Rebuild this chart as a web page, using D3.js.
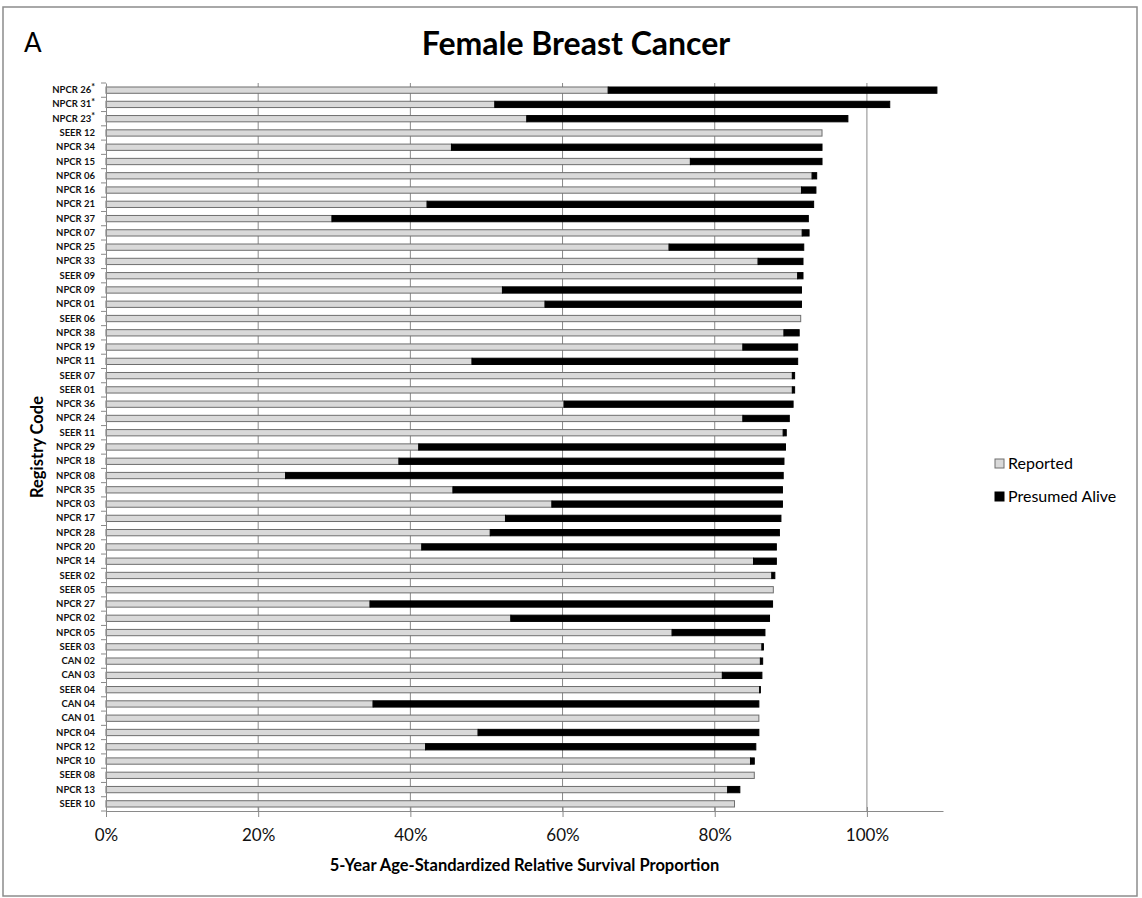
<!DOCTYPE html>
<html>
<head>
<meta charset="utf-8">
<script src="https://cdn.jsdelivr.net/npm/d3@7"></script>
<style>
  body { margin: 0; background: #fff; }
  text { font-family: Lato, "Open Sans", sans-serif; }
</style>
</head>
<body>
<svg id="chart"></svg>
<script>
const registries = [
  "NPCR 26*", "NPCR 31*", "NPCR 23*", "SEER 12", "NPCR 34", "NPCR 15", "NPCR 06",
  "NPCR 16", "NPCR 21", "NPCR 37", "NPCR 07", "NPCR 25", "NPCR 33", "SEER 09",
  "NPCR 09", "NPCR 01", "SEER 06", "NPCR 38", "NPCR 19", "NPCR 11", "SEER 07",
  "SEER 01", "NPCR 36", "NPCR 24", "SEER 11", "NPCR 29", "NPCR 18", "NPCR 08",
  "NPCR 35", "NPCR 03", "NPCR 17", "NPCR 28", "NPCR 20", "NPCR 14", "SEER 02",
  "SEER 05", "NPCR 27", "NPCR 02", "NPCR 05", "SEER 03", "CAN 02", "CAN 03",
  "SEER 04", "CAN 04", "CAN 01", "NPCR 04", "NPCR 12", "NPCR 10", "SEER 08",
  "NPCR 13", "SEER 10"
];
// percent values
const reported = [
  66.0, 51.1, 55.3, 94.1, 45.4, 76.8, 92.8,
  91.4, 42.2, 29.7, 91.5, 74.0, 85.7, 90.9,
  52.1, 57.7, 91.3, 89.1, 83.7, 48.1, 90.2,
  90.2, 60.2, 83.7, 89.0, 41.1, 38.5, 23.6,
  45.6, 58.6, 52.5, 50.5, 41.5, 85.1, 87.5,
  87.7, 34.7, 53.2, 74.4, 86.2, 86.0, 81.0,
  85.9, 35.1, 85.8, 48.9, 42.0, 84.7, 85.2,
  81.7, 82.6
];
const presumedAlive = [
  43.2, 51.9, 42.2, 0.0, 48.7, 17.3, 0.6,
  1.9, 50.8, 62.6, 0.9, 17.7, 5.9, 0.7,
  39.3, 33.7, 0.0, 2.0, 7.2, 42.8, 0.3,
  0.3, 30.1, 6.1, 0.4, 48.2, 50.6, 65.4,
  43.3, 30.3, 36.2, 38.0, 46.6, 3.0, 0.4,
  0.0, 52.9, 34.0, 12.2, 0.2, 0.3, 5.2,
  0.1, 50.7, 0.0, 36.9, 43.4, 0.5, 0.0,
  1.6, 0.0
];
const xTicks = [0, 0.2, 0.4, 0.6, 0.8, 1.0];
const seriesNames = ["Reported", "Presumed Alive"];

const w = 1142;
const h = 898;
const plotLeft = 106, plotRight = 943, plotTop = 83, plotBottom = 811;
const grayFill = "#d9d9d9";
const grayStroke = "#6e6e6e";
const gridColor = "#8a8a8a";

const svg = d3.select("#chart").attr("width", w).attr("height", h);

svg.append("rect")
  .attr("x", 3).attr("y", 7)
  .attr("width", 1134).attr("height", 889)
  .attr("fill", "none")
  .attr("stroke", "#8c8c8c")
  .attr("stroke-width", 1.5);

svg.append("text")
  .attr("x", 24).attr("y", 52)
  .style("font-size", "26px")
  .text("A");

svg.append("text")
  .attr("x", 576).attr("y", 55)
  .attr("text-anchor", "middle")
  .style("font-size", "32px")
  .style("font-weight", "bold")
  .text("Female Breast Cancer");

const rows = registries.map((r, i) => ({
  name: r,
  "Reported": reported[i] / 100,
  "Presumed Alive": presumedAlive[i] / 100
}));

const xScale = d3.scaleLinear().domain([0, 1.1]).range([plotLeft, plotRight]);
const yScale = d3.scaleBand()
  .domain(registries)
  .range([plotTop, plotBottom])
  .paddingInner(0.56)
  .paddingOuter(0.28);

// gridlines
svg.append("g")
  .selectAll("line")
  .data(xTicks.slice(1))
  .enter()
  .append("line")
  .attr("x1", (d) => xScale(d))
  .attr("x2", (d) => xScale(d))
  .attr("y1", plotTop)
  .attr("y2", plotBottom)
  .attr("stroke", gridColor)
  .attr("stroke-width", 1);

const stacked = d3.stack().keys(seriesNames)(rows);

svg.append("g")
  .selectAll("g")
  .data(stacked)
  .enter()
  .append("g")
  .attr("fill", (s) => (s.key === "Reported" ? grayFill : "#000"))
  .attr("stroke", (s) => (s.key === "Reported" ? grayStroke : "#000"))
  .attr("stroke-width", 1)
  .selectAll("rect")
  .data((s) => s)
  .enter()
  .append("rect")
  .attr("x", (d) => xScale(d[0]))
  .attr("y", (d) => yScale(d.data.name))
  .attr("width", (d) => Math.max(0, xScale(d[1]) - xScale(d[0])))
  .attr("height", yScale.bandwidth());

// x axis
const xAxis = d3.axisBottom(xScale)
  .tickValues(xTicks)
  .tickFormat(d3.format(".0%"))
  .tickSizeInner(6)
  .tickSizeOuter(0)
  .tickPadding(12);

const gx = svg.append("g")
  .attr("id", "x-axis")
  .attr("transform", "translate(0," + plotBottom + ")")
  .call(xAxis);
gx.select(".domain").attr("stroke", gridColor);
gx.selectAll(".tick line").attr("stroke", gridColor).attr("y1", -4);
gx.selectAll(".tick text")
  .style("font-size", "17px")
  .attr("fill", "#111");

// y axis
const yAxis = d3.axisLeft(yScale).tickSize(0).tickPadding(11);
const gy = svg.append("g")
  .attr("id", "y-axis")
  .attr("transform", "translate(" + plotLeft + ",0)")
  .call(yAxis);
gy.select(".domain").attr("stroke", gridColor);
gy.selectAll(".tick text")
  .style("font-size", "9.5px")
  .style("font-weight", "bold")
  .attr("fill", "#111")
  .each(function (d) {
    if (d.endsWith("*")) {
      const t = d3.select(this).text(d.slice(0, -1));
      t.append("tspan")
        .attr("dy", "-0.3em")
        .style("font-size", "9px")
        .text("*");
    }
  });

// boundary ticks between categories
const step = yScale.step();
const boundaries = registries
  .map((r) => yScale(r) - yScale.paddingInner() * step / 2)
  .concat([plotBottom]);
svg.append("g")
  .selectAll("line")
  .data(boundaries)
  .enter()
  .append("line")
  .attr("x1", plotLeft - 5)
  .attr("x2", plotLeft)
  .attr("y1", (d) => d)
  .attr("y2", (d) => d)
  .attr("stroke", gridColor);

svg.append("text")
  .attr("x", (plotLeft + plotRight) / 2)
  .attr("y", 871)
  .attr("text-anchor", "middle")
  .style("font-size", "16.5px")
  .style("font-weight", "bold")
  .text("5-Year Age-Standardized Relative Survival Proportion");

svg.append("text")
  .attr("transform", "translate(43," + (plotTop + plotBottom) / 2 + ") rotate(-90)")
  .attr("text-anchor", "middle")
  .style("font-size", "16.5px")
  .style("font-weight", "bold")
  .text("Registry Code");

// legend
const legend = svg.append("g").attr("id", "legend");
seriesNames.forEach((name, i) => {
  legend.append("rect")
    .attr("x", 995)
    .attr("y", 459 + i * 33)
    .attr("width", 9)
    .attr("height", 9)
    .attr("fill", i === 0 ? grayFill : "#000")
    .attr("stroke", i === 0 ? grayStroke : "#000");
  legend.append("text")
    .attr("x", 1008)
    .attr("y", 469 + i * 33)
    .style("font-size", "16px")
    .text(name);
});
</script>
</body>
</html>
